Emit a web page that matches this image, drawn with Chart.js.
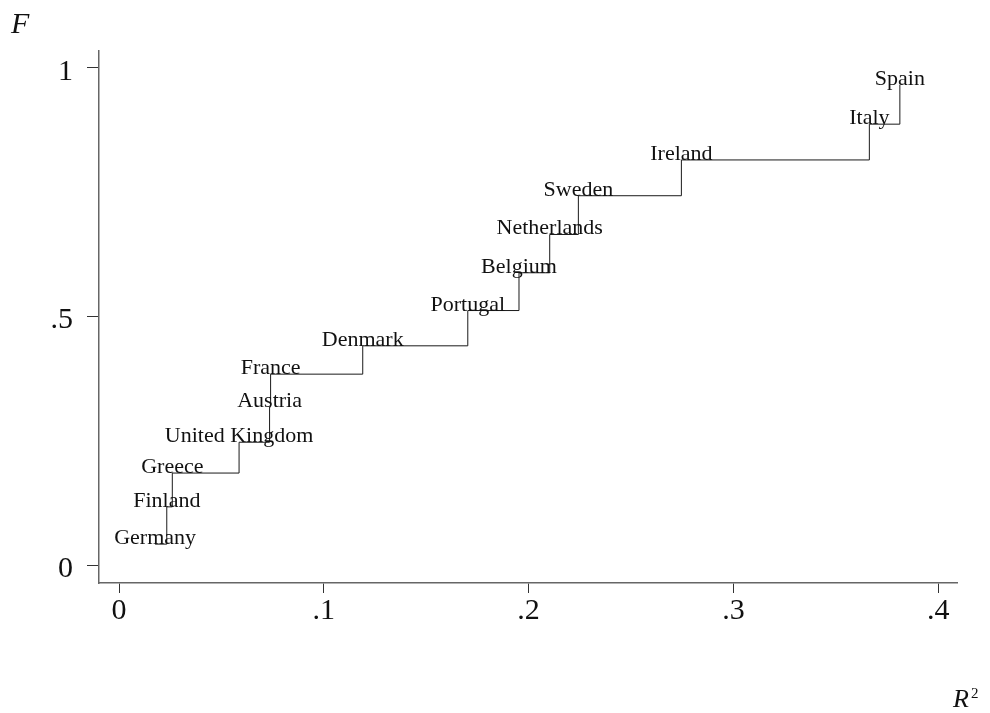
<!DOCTYPE html>
<html>
<head>
<meta charset="utf-8">
<title>F vs R2</title>
<script src="https://cdn.jsdelivr.net/npm/chart.js@4.4.0/dist/chart.umd.min.js"></script>
<style>
  html, body { margin: 0; padding: 0; background: #fff; }
  #wrap { width: 990px; height: 713px; position: relative; }
</style>
</head>
<body>
<div id="wrap"><canvas id="cdfChart"></canvas></div>
<script>
// Data
const countries = ["Germany", "Finland", "Greece", "United Kingdom", "Austria", "France", "Denmark",
  "Portugal", "Belgium", "Netherlands", "Sweden", "Ireland", "Italy", "Spain"];
const rSquared = [0.0176, 0.0233, 0.0260, 0.0586, 0.0735, 0.0740, 0.1190,
  0.1703, 0.1953, 0.2103, 0.2243, 0.2746, 0.3664, 0.3813];
const cumShare = [0.042, 0.117, 0.185, 0.247, 0.318, 0.384, 0.441,
  0.512, 0.588, 0.665, 0.743, 0.815, 0.887, 0.966];

const xTicks = [0, 0.1, 0.2, 0.3, 0.4];
const xTickLabels = ["0", ".1", ".2", ".3", ".4"];
const yTicks = [0, 0.5, 1];
const yTickLabels = ["0", ".5", "1"];

const SERIF = '"Liberation Serif", "Times New Roman", serif';

/**
 * Country names centred on each point, baseline on the point.
 */
const pointLabels = {
  id: "pointLabels",
  afterDatasetsDraw(chart) {
    const meta = chart.getDatasetMeta(0);
    const ctx = chart.ctx;
    ctx.save();
    ctx.font = "22px " + SERIF;
    ctx.fillStyle = "#111";
    ctx.textAlign = "center";
    ctx.textBaseline = "alphabetic";
    meta.data.forEach((pt, i) => ctx.fillText(countries[i], pt.x, pt.y));
    ctx.restore();
  }
};

/**
 * Axis titles: F top left, R^2 bottom right.
 */
const axisTitles = {
  id: "axisTitles",
  afterDraw(chart) {
    const ctx = chart.ctx;
    ctx.save();
    ctx.fillStyle = "#111";
    ctx.textAlign = "left";
    ctx.textBaseline = "alphabetic";
    ctx.font = "italic 30px " + SERIF;
    ctx.fillText("F", 11, 33);
    ctx.font = "italic 26px " + SERIF;
    ctx.fillText("R", 953, 707);
    ctx.font = "15px " + SERIF;
    ctx.fillText("2", 971, 698);
    ctx.restore();
  }
};

const data = rSquared.map((r, i) => ({ x: r, y: cumShare[i] }));

new Chart(document.getElementById("cdfChart"), {
  type: "scatter",
  data: {
    datasets: [{
      data: data,
      showLine: true,
      stepped: "before",
      borderColor: "#1a1a1a",
      borderWidth: 1,
      pointRadius: 0,
      fill: false
    }]
  },
  options: {
    responsive: true,
    maintainAspectRatio: false,
    animation: false,
    devicePixelRatio: 1,
    layout: { padding: { left: 0, right: 33, top: 51, bottom: 0 } },
    plugins: {
      legend: { display: false },
      tooltip: { enabled: false }
    },
    scales: {
      x: {
        type: "linear",
        min: -0.0098,
        max: 0.4092,
        afterFit: (scale) => { scale.height = 130; },
        afterBuildTicks: (scale) => { scale.ticks = xTicks.map((v) => ({ value: v })); },
        grid: { drawOnChartArea: false, drawTicks: true, tickLength: 10, color: "#333" },
        border: { display: true, color: "#666", width: 1.5 },
        ticks: {
          font: { family: SERIF, size: 30 },
          color: "#111",
          padding: 0,
          maxRotation: 0,
          callback: (v, i) => xTickLabels[i]
        }
      },
      y: {
        type: "linear",
        min: -0.0362,
        max: 1.0342,
        afterFit: (scale) => { scale.width = 99; },
        afterBuildTicks: (scale) => { scale.ticks = yTicks.map((v) => ({ value: v })); },
        grid: { drawOnChartArea: false, drawTicks: true, tickLength: 12, color: "#333" },
        border: { display: true, color: "#666", width: 1.5 },
        ticks: {
          font: { family: SERIF, size: 30 },
          color: "#111",
          padding: 14,
          labelOffset: 4,
          callback: (v, i) => yTickLabels[i]
        }
      }
    }
  },
  plugins: [pointLabels, axisTitles]
});
</script>
</body>
</html>
